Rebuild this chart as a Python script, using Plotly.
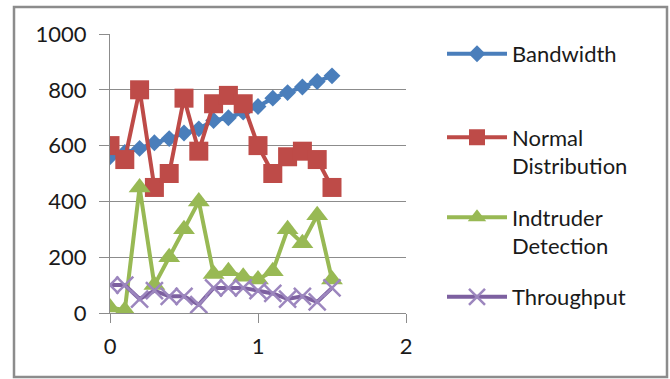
import plotly.graph_objects as go

x_vals = [0, 0.1, 0.2, 0.3, 0.4, 0.5, 0.6, 0.7, 0.8, 0.9, 1.0, 1.1, 1.2, 1.3, 1.4, 1.5]
bandwidth = [560, 575, 590, 610, 625, 645, 660, 690, 700, 720, 740, 770, 790, 810, 830, 850]
normal_dist = [600, 550, 800, 450, 500, 770, 580, 750, 780, 750, 600, 500, 560, 580, 550, 450]
intruder = [20, 10, 450, 100, 200, 300, 400, 140, 150, 130, 120, 150, 300, 250, 350, 120]
throughput = [100, 100, 50, 80, 60, 60, 30, 90, 90, 90, 80, 70, 50, 60, 40, 90]

series_names = ["Bandwidth", "Normal<br>Distribution", "Indtruder<br>Detection", "Throughput"]
y_ticks = [0, 200, 400, 600, 800, 1000]
x_ticks = [0, 1, 2]

FONT = "Lato"
FS = 22
fig = go.Figure()

fig.add_trace(go.Scatter(x=x_vals, y=bandwidth, name=series_names[0], mode="lines+markers",
                         line=dict(color="#4A7EBB", width=4),
                         marker=dict(symbol="diamond", size=13, color="#4A7EBB"),
                         legend="legend"))
fig.add_trace(go.Scatter(x=x_vals, y=normal_dist, name=series_names[1], mode="lines+markers",
                         line=dict(color="#BE4B48", width=4),
                         marker=dict(symbol="square", size=19, color="#BE4B48"),
                         legend="legend2"))
fig.add_trace(go.Scatter(x=x_vals, y=intruder, name=series_names[2], mode="lines+markers",
                         line=dict(color="#98B954", width=4),
                         marker=dict(symbol="triangle-up", size=19, color="#98B954"),
                         legend="legend3"))
fig.add_trace(go.Scatter(x=x_vals, y=throughput, name=series_names[3], mode="lines+markers",
                         line=dict(color="#7D60A0", width=4),
                         marker=dict(symbol="x-thin", size=17, color="#7D60A0",
                                     line=dict(color="#9C86BE", width=2.5)),
                         legend="legend4"))

L, R, T, B = 110, 264, 34, 66
W, H = 670, 379

leg_common = dict(xanchor="left", yanchor="middle", font=dict(family=FONT, size=FS, color="#1a1a1a"),
                  bgcolor="rgba(0,0,0,0)", itemwidth=60, valign="top")

PW, PH = W - L - R, H - T - B

def px(xp):
    return (xp - L) / PW

def py(yp):
    return (H - B - yp) / PH

fig.update_layout(
    width=W, height=H,
    margin=dict(l=L, r=R, t=T, b=B),
    paper_bgcolor="white", plot_bgcolor="white",
    font=dict(family=FONT, size=FS, color="#1a1a1a"),
    showlegend=True,
    legend=dict(x=px(442), y=py(54), **leg_common),
    legend2=dict(x=px(442), y=py(152), **leg_common),
    legend3=dict(x=px(442), y=py(232), **leg_common),
    legend4=dict(x=px(442), y=py(297), **leg_common),
    xaxis=dict(range=[0, 2], tickvals=x_ticks, ticks="outside", ticklen=9, tickcolor="#8c8c8c",
               showline=True, linecolor="#8c8c8c", linewidth=1, showgrid=False, zeroline=False,
               ticklabelstandoff=5, tickfont=dict(family=FONT, size=FS)),
    yaxis=dict(range=[0, 1000], tickvals=y_ticks, ticks="outside", ticklen=10, tickcolor="#8c8c8c",
               showline=True, linecolor="#8c8c8c", linewidth=1, showgrid=True, gridcolor="#8c8c8c",
               gridwidth=1, zeroline=False, ticklabelstandoff=8, tickfont=dict(family=FONT, size=FS)),
    shapes=[dict(type="rect", xref="paper", yref="paper", layer="above",
                 x0=px(14), x1=px(667), y0=py(377), y1=py(7),
                 line=dict(color="#8c8c8c", width=2.5), fillcolor="rgba(0,0,0,0)")],
)

fig.write_html("out.html", config={"displayModeBar": False},
               post_script="document.body.style.margin='0px';document.body.style.overflow='hidden';")
